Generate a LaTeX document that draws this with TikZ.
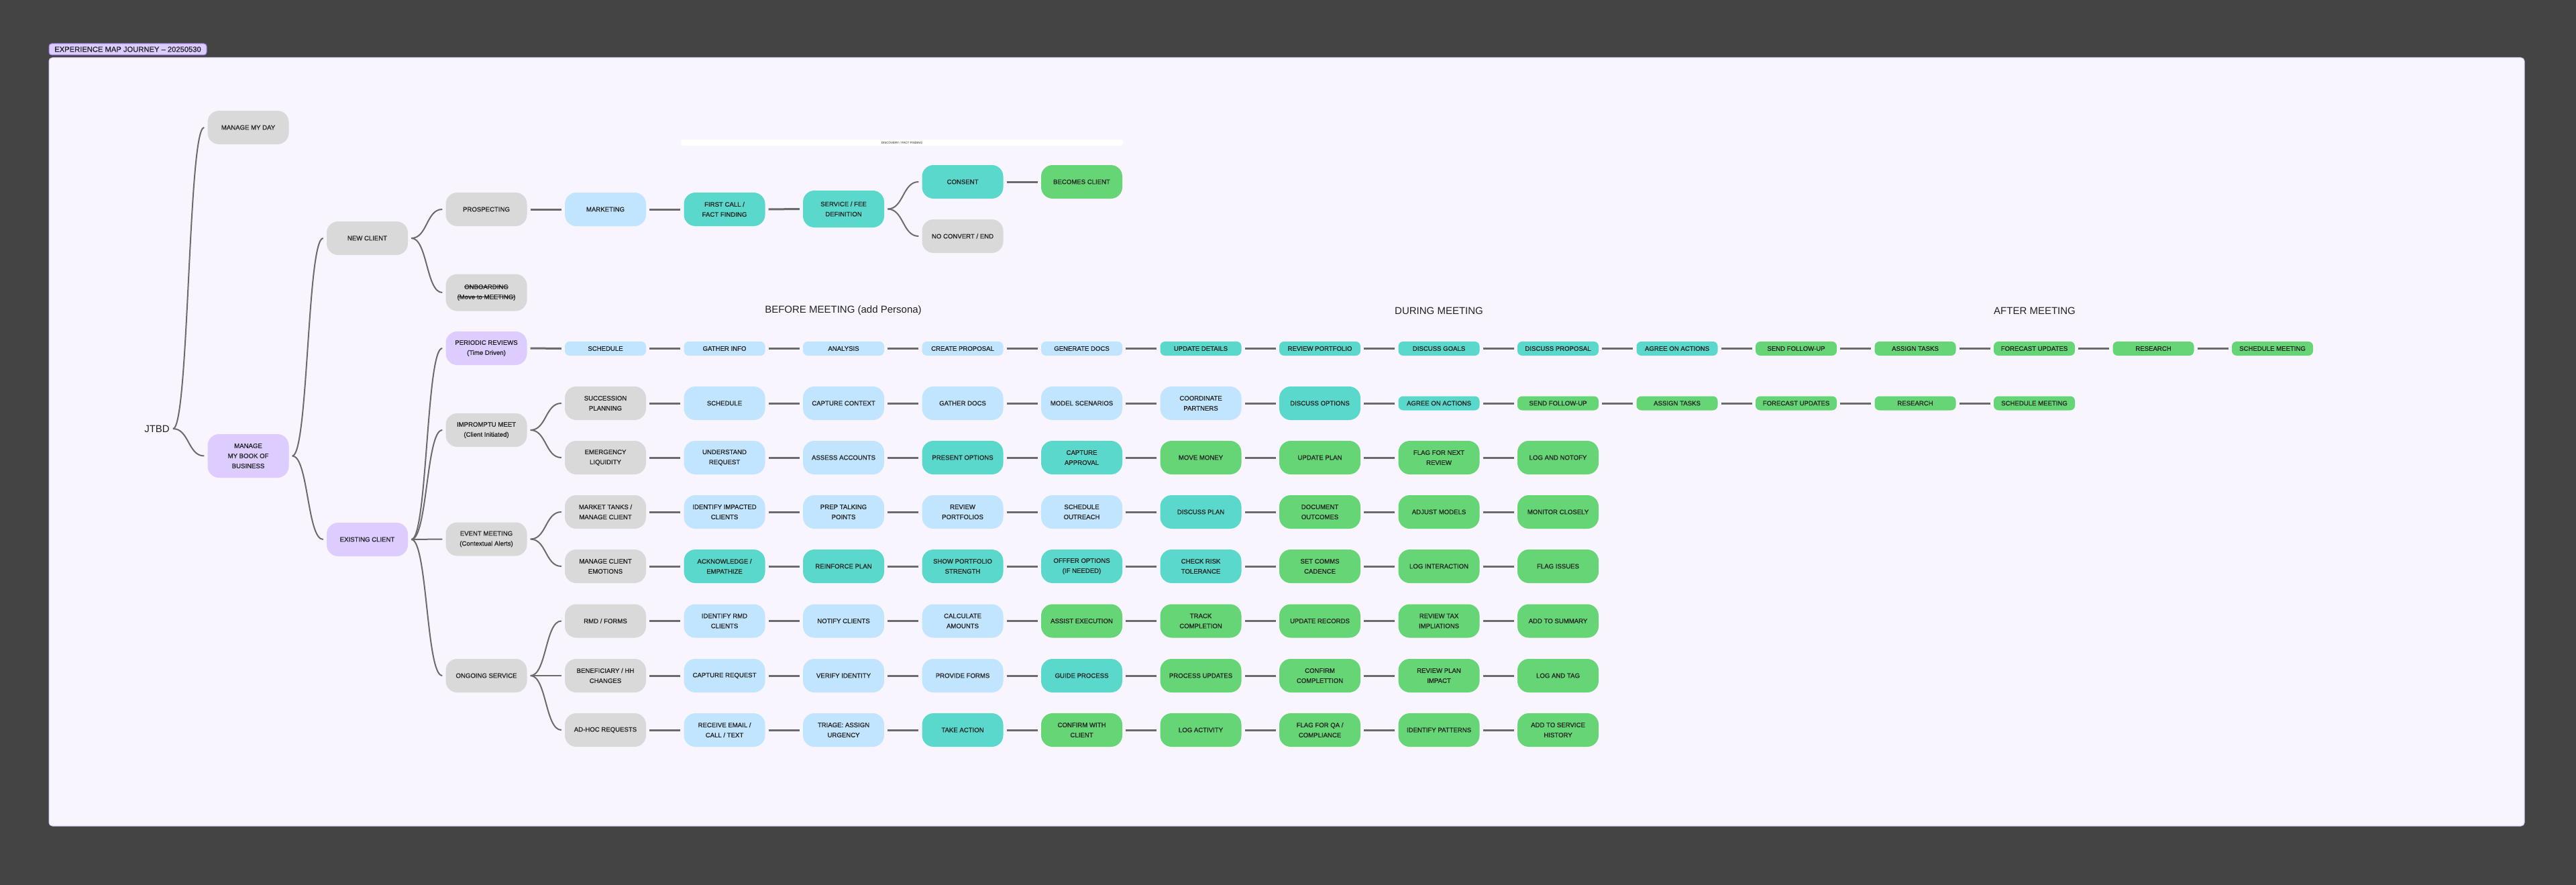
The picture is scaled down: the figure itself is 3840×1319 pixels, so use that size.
\documentclass[tikz,border=0pt]{standalone}
\usepackage{fontspec}
\setmainfont{Liberation Sans}
\newfontfamily\medfont[FakeBold=0.9]{Liberation Sans}
\definecolor{bgdark}{HTML}{444444}
\definecolor{canvas}{HTML}{F8F5FE}
\definecolor{canvasedge}{HTML}{D9CEF5}
\definecolor{cgray}{HTML}{D9D9D9}
\definecolor{cblue}{HTML}{C2E5FF}
\definecolor{cteal}{HTML}{5AD8CC}
\definecolor{cgreen}{HTML}{66D575}
\definecolor{cpurple}{HTML}{DCCCFF}
\definecolor{tagedge}{HTML}{9A7CE6}
\definecolor{cline}{HTML}{6B6B6B}
\definecolor{ctext}{HTML}{222222}
\newsavebox\strkbox
\newcommand\mystrike[1]{\sbox\strkbox{#1}\rlap{\rule[0.32em]{\wd\strkbox}{0.6pt}}\usebox\strkbox}
\newcommand\myconn[2]{\draw[cnl] ([xshift=5pt]#1.east) -- ([xshift=-5pt]#2.west);}
\newcommand\mybranch[2]{\draw[brl] ([xshift=5pt]#1.east) .. controls +(24,0) and +(-24,0) .. ([xshift=-5pt]#2.west);}
\tikzset{
  bx/.style={rounded corners=17pt, minimum width=121pt, minimum height=50pt, inner sep=0pt,
    align=center, text=ctext, font=\medfont\fontsize{9.6}{15}\selectfont},
  pill/.style={bx, rounded corners=7pt, minimum height=21pt},
  gy/.style={fill=cgray},
  bl/.style={fill=cblue},
  tl/.style={fill=cteal},
  gr/.style={fill=cgreen},
  pu/.style={fill=cpurple},
  cnl/.style={draw=cline, line width=3pt},
  brl/.style={draw=cline, line width=2pt},
  hdr/.style={inner sep=0pt, text=ctext, font=\fontsize{15}{18}\selectfont}
}
\begin{document}
\begin{tikzpicture}[x=1pt,y=-1pt]
\useasboundingbox (0,0) rectangle (3840,1319);
\fill[bgdark] (0,0) rectangle (3840,1319);
\filldraw[fill=canvas, draw=canvasedge, line width=1pt, rounded corners=5pt] (73,86) rectangle (3763,1231);
\node[fill=cpurple, draw=tagedge, line width=1pt, rounded corners=4pt, minimum width=235pt, minimum height=17pt, inner sep=0pt, text=ctext, font=\medfont\fontsize{11.2}{12}\selectfont] (tag) at (190.5,73.5) {EXPERIENCE MAP JOURNEY – 20250530};

% discovery bar
\node[fill=white, rounded corners=3pt, minimum width=659pt, minimum height=9pt, inner sep=0pt, text=ctext, font=\fontsize{4.5}{5}\selectfont] (disc) at (1344.5,212.5) {DISCOVERY / FACT FINDING};

% headers
\node[hdr] (hbefore) at (1257,463) {BEFORE MEETING (add Persona)};
\node[hdr] (hduring) at (2145,463) {DURING MEETING};
\node[hdr] (hafter) at (3033,463) {AFTER MEETING};

% tree
\node[hdr] (jtbd) at (234,639) {JTBD};
\node[bx,gy] (day) at (370,190) {MANAGE MY DAY};
\node[bx,pu,minimum height=65pt] (book) at (370,679.5) {MANAGE\\MY BOOK OF\\BUSINESS};
\node[bx,gy] (newc) at (547.5,355) {NEW CLIENT};
\node[bx,pu] (exist) at (547.5,804) {EXISTING CLIENT};
\node[bx,gy] (prosp) at (725,312) {PROSPECTING};
\node[bx,gy,minimum height=55pt] (onb) at (725,436) {\mystrike{ONBOARDING}\\\mystrike{(Move to MEETING)}};
\node[bx,pu] (peri) at (725,519) {PERIODIC REVIEWS\\(Time Driven)};
\node[bx,gy] (impr) at (725,641) {IMPROMPTU MEET\\(Client Initiated)};
\node[bx,gy] (event) at (725,803.5) {EVENT MEETING\\(Contextual Alerts)};
\node[bx,gy] (ongo) at (725,1007) {ONGOING SERVICE};

% prospecting row
\node[bx,bl] (mkt) at (902.5,312) {MARKETING};
\node[bx,tl] (fcall) at (1080,312) {FIRST CALL /\\FACT FINDING};
\node[bx,tl,minimum height=55pt] (fee) at (1257.5,311.5) {SERVICE / FEE\\DEFINITION};
\node[bx,tl] (cons) at (1435,271) {CONSENT};
\node[bx,gr] (becl) at (1612.5,271) {BECOMES CLIENT};
\node[bx,gy] (noconv) at (1435,352) {NO CONVERT / END};

% periodic row
\def\ry{519.5}
\node[pill,bl] (P3) at (902.5,\ry) {SCHEDULE};
\node[pill,bl] (P4) at (1080,\ry) {GATHER INFO};
\node[pill,bl] (P5) at (1257.5,\ry) {ANALYSIS};
\node[pill,bl] (P6) at (1435,\ry) {CREATE PROPOSAL};
\node[pill,bl] (P7) at (1612.5,\ry) {GENERATE DOCS};
\node[pill,tl] (P8) at (1790,\ry) {UPDATE DETAILS};
\node[pill,tl] (P9) at (1967.5,\ry) {REVIEW PORTFOLIO};
\node[pill,tl] (P10) at (2145,\ry) {DISCUSS GOALS};
\node[pill,tl] (P11) at (2322.5,\ry) {DISCUSS PROPOSAL};
\node[pill,tl] (P12) at (2500,\ry) {AGREE ON ACTIONS};
\node[pill,gr] (P13) at (2677.5,\ry) {SEND FOLLOW-UP};
\node[pill,gr] (P14) at (2855,\ry) {ASSIGN TASKS};
\node[pill,gr] (P15) at (3032.5,\ry) {FORECAST UPDATES};
\node[pill,gr] (P16) at (3210,\ry) {RESEARCH};
\node[pill,gr] (P17) at (3387.5,\ry) {SCHEDULE MEETING};

% succession row
\def\ry{601}
\node[bx,gy] (S3) at (902.5,\ry) {SUCCESSION\\PLANNING};
\node[bx,bl] (S4) at (1080,\ry) {SCHEDULE};
\node[bx,bl] (S5) at (1257.5,\ry) {CAPTURE CONTEXT};
\node[bx,bl] (S6) at (1435,\ry) {GATHER DOCS};
\node[bx,bl] (S7) at (1612.5,\ry) {MODEL SCENARIOS};
\node[bx,bl] (S8) at (1790,\ry) {COORDINATE\\PARTNERS};
\node[bx,tl] (S9) at (1967.5,\ry) {DISCUSS OPTIONS};
\node[pill,tl] (S10) at (2145,\ry) {AGREE ON ACTIONS};
\node[pill,gr] (S11) at (2322.5,\ry) {SEND FOLLOW-UP};
\node[pill,gr] (S12) at (2500,\ry) {ASSIGN TASKS};
\node[pill,gr] (S13) at (2677.5,\ry) {FORECAST UPDATES};
\node[pill,gr] (S14) at (2855,\ry) {RESEARCH};
\node[pill,gr] (S15) at (3032.5,\ry) {SCHEDULE MEETING};

% emergency row
\def\ry{682}
\node[bx,gy] (E3) at (902.5,\ry) {EMERGENCY\\LIQUIDITY};
\node[bx,bl] (E4) at (1080,\ry) {UNDERSTAND\\REQUEST};
\node[bx,bl] (E5) at (1257.5,\ry) {ASSESS ACCOUNTS};
\node[bx,tl] (E6) at (1435,\ry) {PRESENT OPTIONS};
\node[bx,tl] (E7) at (1612.5,\ry) {CAPTURE\\APPROVAL};
\node[bx,gr] (E8) at (1790,\ry) {MOVE MONEY};
\node[bx,gr] (E9) at (1967.5,\ry) {UPDATE PLAN};
\node[bx,gr] (E10) at (2145,\ry) {FLAG FOR NEXT\\REVIEW};
\node[bx,gr] (E11) at (2322.5,\ry) {LOG AND NOTOFY};

% market row
\def\ry{763}
\node[bx,gy] (M3) at (902.5,\ry) {MARKET TANKS /\\MANAGE CLIENT};
\node[bx,bl] (M4) at (1080,\ry) {IDENTIFY IMPACTED\\CLIENTS};
\node[bx,bl] (M5) at (1257.5,\ry) {PREP TALKING\\POINTS};
\node[bx,bl] (M6) at (1435,\ry) {REVIEW\\PORTFOLIOS};
\node[bx,bl] (M7) at (1612.5,\ry) {SCHEDULE\\OUTREACH};
\node[bx,tl] (M8) at (1790,\ry) {DISCUSS PLAN};
\node[bx,gr] (M9) at (1967.5,\ry) {DOCUMENT\\OUTCOMES};
\node[bx,gr] (M10) at (2145,\ry) {ADJUST MODELS};
\node[bx,gr] (M11) at (2322.5,\ry) {MONITOR CLOSELY};

% emotions row
\def\ry{844}
\node[bx,gy] (C3) at (902.5,\ry) {MANAGE CLIENT\\EMOTIONS};
\node[bx,tl] (C4) at (1080,\ry) {ACKNOWLEDGE /\\EMPATHIZE};
\node[bx,tl] (C5) at (1257.5,\ry) {REINFORCE PLAN};
\node[bx,tl] (C6) at (1435,\ry) {SHOW PORTFOLIO\\STRENGTH};
\node[bx,tl] (C7) at (1612.5,\ry) {OFFFER OPTIONS\\(IF NEEDED)};
\node[bx,tl] (C8) at (1790,\ry) {CHECK RISK\\TOLERANCE};
\node[bx,gr] (C9) at (1967.5,\ry) {SET COMMS\\CADENCE};
\node[bx,gr] (C10) at (2145,\ry) {LOG INTERACTION};
\node[bx,gr] (C11) at (2322.5,\ry) {FLAG ISSUES};

% rmd row
\def\ry{925.5}
\node[bx,gy] (R3) at (902.5,\ry) {RMD / FORMS};
\node[bx,bl] (R4) at (1080,\ry) {IDENTIFY RMD\\CLIENTS};
\node[bx,bl] (R5) at (1257.5,\ry) {NOTIFY CLIENTS};
\node[bx,bl] (R6) at (1435,\ry) {CALCULATE\\AMOUNTS};
\node[bx,gr] (R7) at (1612.5,\ry) {ASSIST EXECUTION};
\node[bx,gr] (R8) at (1790,\ry) {TRACK\\COMPLETION};
\node[bx,gr] (R9) at (1967.5,\ry) {UPDATE RECORDS};
\node[bx,gr] (R10) at (2145,\ry) {REVIEW TAX\\IMPLIATIONS};
\node[bx,gr] (R11) at (2322.5,\ry) {ADD TO SUMMARY};

% beneficiary row
\def\ry{1007}
\node[bx,gy] (B3) at (902.5,\ry) {BENEFICIARY / HH\\CHANGES};
\node[bx,bl] (B4) at (1080,\ry) {CAPTURE REQUEST};
\node[bx,bl] (B5) at (1257.5,\ry) {VERIFY IDENTITY};
\node[bx,bl] (B6) at (1435,\ry) {PROVIDE FORMS};
\node[bx,tl] (B7) at (1612.5,\ry) {GUIDE PROCESS};
\node[bx,gr] (B8) at (1790,\ry) {PROCESS UPDATES};
\node[bx,gr] (B9) at (1967.5,\ry) {CONFIRM\\COMPLETTION};
\node[bx,gr] (B10) at (2145,\ry) {REVIEW PLAN\\IMPACT};
\node[bx,gr] (B11) at (2322.5,\ry) {LOG AND TAG};

% ad-hoc row
\def\ry{1088}
\node[bx,gy] (A3) at (902.5,\ry) {AD-HOC REQUESTS};
\node[bx,bl] (A4) at (1080,\ry) {RECEIVE EMAIL /\\CALL / TEXT};
\node[bx,bl] (A5) at (1257.5,\ry) {TRIAGE: ASSIGN\\URGENCY};
\node[bx,tl] (A6) at (1435,\ry) {TAKE ACTION};
\node[bx,gr] (A7) at (1612.5,\ry) {CONFIRM WITH\\CLIENT};
\node[bx,gr] (A8) at (1790,\ry) {LOG ACTIVITY};
\node[bx,gr] (A9) at (1967.5,\ry) {FLAG FOR QA /\\COMPLIANCE};
\node[bx,gr] (A10) at (2145,\ry) {IDENTIFY PATTERNS};
\node[bx,gr] (A11) at (2322.5,\ry) {ADD TO SERVICE\\HISTORY};

% branches
\mybranch{jtbd}{day}
\mybranch{jtbd}{book}
\mybranch{book}{newc}
\mybranch{book}{exist}
\mybranch{newc}{prosp}
\mybranch{newc}{onb}
\mybranch{exist}{peri}
\mybranch{exist}{impr}
\mybranch{exist}{event}
\mybranch{exist}{ongo}
\mybranch{impr}{S3}
\mybranch{impr}{E3}
\mybranch{event}{M3}
\mybranch{event}{C3}
\mybranch{ongo}{R3}
\mybranch{ongo}{B3}
\mybranch{ongo}{A3}
\mybranch{fee}{cons}
\mybranch{fee}{noconv}

% straight connectors
\myconn{prosp}{mkt}
\myconn{mkt}{fcall}
\myconn{fcall}{fee}
\myconn{cons}{becl}
\myconn{peri}{P3}
\foreach \i in {3,...,16}{\pgfmathtruncatemacro\j{\i+1}\myconn{P\i}{P\j}}
\foreach \i in {3,...,14}{\pgfmathtruncatemacro\j{\i+1}\myconn{S\i}{S\j}}
\foreach \r in {E,M,C,R,B,A}{
  \foreach \i in {3,...,10}{\pgfmathtruncatemacro\j{\i+1}\myconn{\r\i}{\r\j}}
}
\end{tikzpicture}
\end{document}
